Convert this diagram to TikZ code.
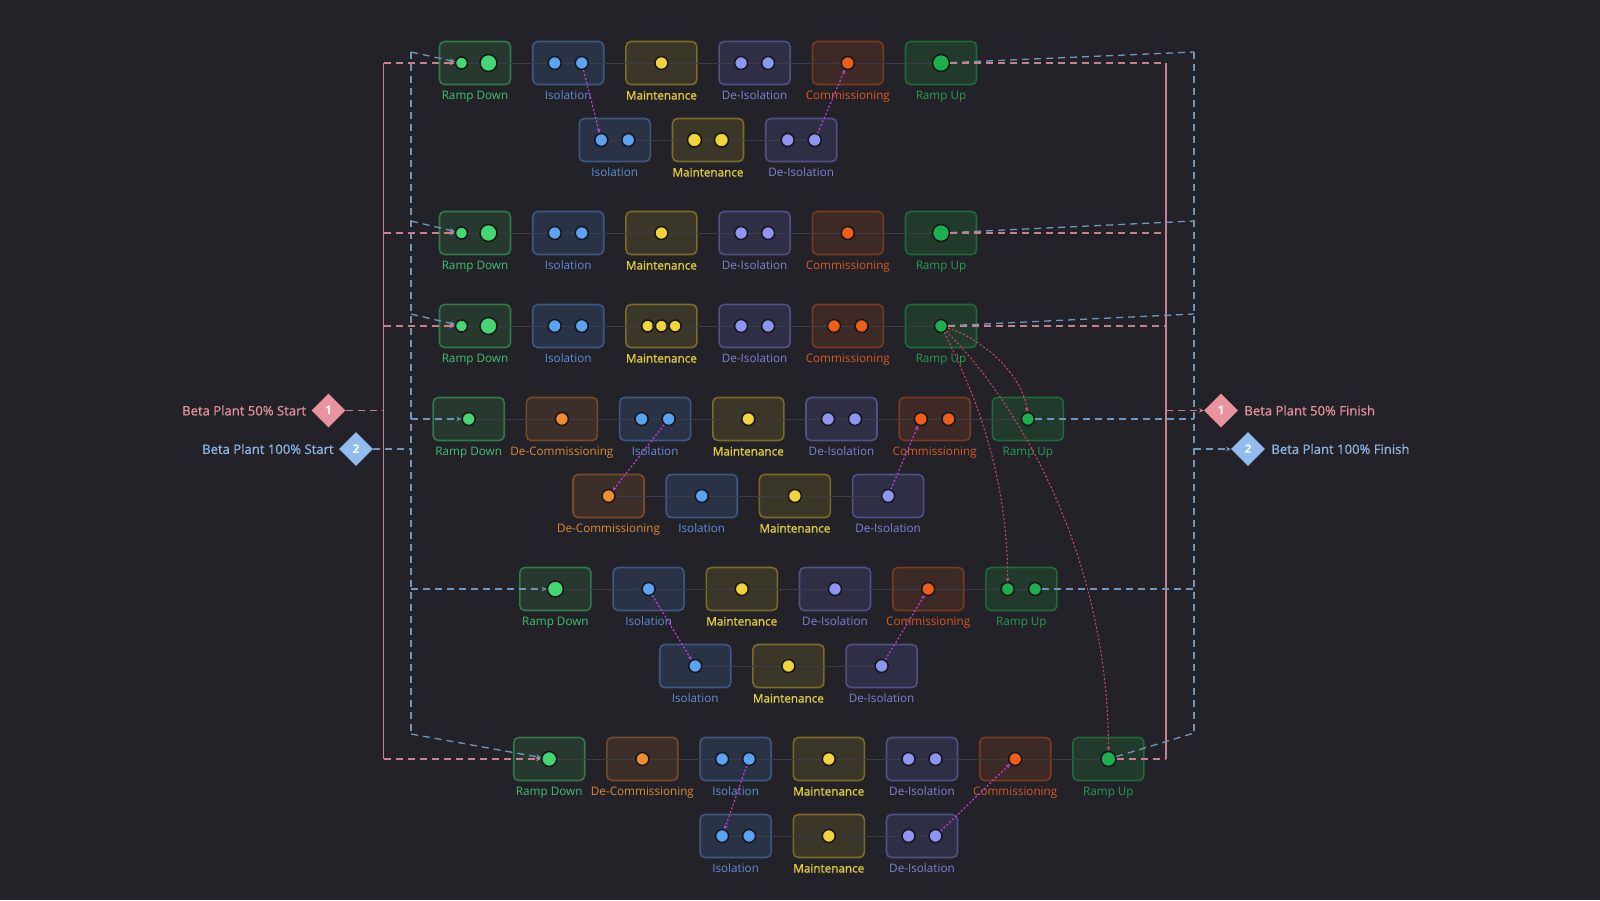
\documentclass[tikz,border=0pt]{standalone}
\usepackage{fontspec}
\setmainfont{Open Sans}
\newfontfamily\heavy[FakeBold=1.2]{Open Sans}
\newfontfamily\semi[FakeBold=0.7]{Open Sans}
\usetikzlibrary{positioning,shapes.geometric,arrows.meta}

\definecolor{bg}{HTML}{232229}
\definecolor{faint}{HTML}{3C3B48}
\definecolor{dotline}{HTML}{15151A}
\definecolor{edgerd}{HTML}{2E7A48}
\definecolor{fillrd}{HTML}{27392F}
\definecolor{dotrd}{HTML}{44D672}
\definecolor{textrd}{HTML}{3DC46B}
\definecolor{edgeiso}{HTML}{3C5884}
\definecolor{filliso}{HTML}{2A3346}
\definecolor{dotiso}{HTML}{5AA2F2}
\definecolor{textiso}{HTML}{5B8FD8}
\definecolor{edgemaint}{HTML}{7C6B27}
\definecolor{fillmaint}{HTML}{3A3628}
\definecolor{dotmaint}{HTML}{F2D33A}
\definecolor{textmaint}{HTML}{E2CB3C}
\definecolor{edgedeiso}{HTML}{50508A}
\definecolor{filldeiso}{HTML}{2E2E45}
\definecolor{dotdeiso}{HTML}{8C95F2}
\definecolor{textdeiso}{HTML}{7D82D6}
\definecolor{edgecomm}{HTML}{7C391D}
\definecolor{fillcomm}{HTML}{3D2A27}
\definecolor{dotcomm}{HTML}{EE5E19}
\definecolor{textcomm}{HTML}{DA5A1E}
\definecolor{edgedecomm}{HTML}{7A4A24}
\definecolor{filldecomm}{HTML}{3C2E29}
\definecolor{dotdecomm}{HTML}{F08C30}
\definecolor{textdecomm}{HTML}{E08934}
\definecolor{edgeru}{HTML}{1F6A3A}
\definecolor{fillru}{HTML}{213A2C}
\definecolor{dotru}{HTML}{1DAF4D}
\definecolor{textru}{HTML}{22A050}
\definecolor{pinkline}{HTML}{C8808C}
\definecolor{pinkfill}{HTML}{E8939E}
\definecolor{pinktext}{HTML}{E4939C}
\definecolor{blueline}{HTML}{7096BC}
\definecolor{bluefill}{HTML}{90BCEE}
\definecolor{bluetext}{HTML}{8DB6E4}
\definecolor{magdep}{HTML}{C23FD8}
\definecolor{reddep}{HTML}{C9485A}

\begin{document}
\begin{tikzpicture}[x=1pt,y=-1pt,
        box/.style={draw=edge#1,fill=fill#1,line width=1.6pt,rounded corners=5pt,minimum width=71pt,minimum height=43pt,inner sep=0pt},
        dot/.style={circle,draw=dotline,line width=1.5pt,inner sep=0pt},
        lbl/.style={inner sep=0pt,anchor=base,font=\fontsize{11.7}{14}\selectfont},
        rowline/.style={faint,line width=0.8pt,-{Stealth[length=3pt,width=3pt]}},
        pinkdash/.style={pinkline,line width=1.3pt,dash pattern=on 7pt off 5pt},
        bluedash/.style={blueline,line width=1.3pt,dash pattern=on 7pt off 5pt},
        tip/.style={-{Stealth[length=5pt,width=4.5pt]}},
        magarrow/.style={magdep,line width=1.2pt,dash pattern=on 2pt off 2pt,-{Stealth[length=4pt,width=4pt]}},
        redarrow/.style={reddep,line width=1.1pt,dash pattern=on 2pt off 2pt,-{Stealth[length=4pt,width=4pt]}},
        milestone/.style={diamond,minimum size=34pt,inner sep=0pt,text=white,font=\bfseries\fontsize{12}{12}\selectfont},
        sidelbl/.style={inner sep=0pt,font=\semi\fontsize{13.1}{15}\selectfont}]
    \fill[bg] (0,0) rectangle (1600,900);
    \foreach \row/\xs/\y/\items in {
        a1/475/63/{rd/Ramp Down/{-13.5/6,13.5/8.5},iso/Isolation/{-13.5/6.5,13.5/6.5},maint/{\heavy Maintenance}/{0/6.5},
            deiso/De-Isolation/{-13.5/6.5,13.5/6.5},comm/Commissioning/{0/6.5},ru/Ramp Up/{0/8.5}},
        a2/614.8/140/{iso/Isolation/{-13.5/6.5,13.5/6.5},maint/{\heavy Maintenance}/{-13.5/7,13.5/7},deiso/De-Isolation/{-13.5/6.5,13.5/6.5}},
        b/475/233/{rd/Ramp Down/{-13.5/6,13.5/8.5},iso/Isolation/{-13.5/6.5,13.5/6.5},maint/{\heavy Maintenance}/{0/6.5},
            deiso/De-Isolation/{-13.5/6.5,13.5/6.5},comm/Commissioning/{0/6.5},ru/Ramp Up/{0/8.5}},
        c/475/326/{rd/Ramp Down/{-13.5/6,13.5/8.5},iso/Isolation/{-13.5/6.5,13.5/6.5},maint/{\heavy Maintenance}/{-13.7/6,0/6,13.7/6},
            deiso/De-Isolation/{-13.5/6.5,13.5/6.5},comm/Commissioning/{-13.8/6.5,13.8/6.5},ru/Ramp Up/{0/6.5}},
        d1/468.7/419/{rd/Ramp Down/{0/6.5},decomm/De-Commissioning/{0/6.5},iso/Isolation/{-13.5/6.5,13.5/6.5},maint/{\heavy Maintenance}/{0/6.5},
            deiso/De-Isolation/{-13.5/6.5,13.5/6.5},comm/Commissioning/{-13.8/6.5,13.8/6.5},ru/Ramp Up/{0/6.5}},
        d2/608.5/496/{decomm/De-Commissioning/{0/6.5},iso/Isolation/{0/6.5},maint/{\heavy Maintenance}/{0/6.5},deiso/De-Isolation/{0/6.5}},
        e1/555.4/589/{rd/Ramp Down/{0/8},iso/Isolation/{0/6.5},maint/{\heavy Maintenance}/{0/6.5},
            deiso/De-Isolation/{0/6.5},comm/Commissioning/{0/6.5},ru/Ramp Up/{-13.7/6.5,13.7/6.5}},
        e2/695.2/666/{iso/Isolation/{0/6.5},maint/{\heavy Maintenance}/{0/6.5},deiso/De-Isolation/{0/6.5}},
        f1/549.2/759/{rd/Ramp Down/{0/7.5},decomm/De-Commissioning/{0/6.5},iso/Isolation/{-13.5/6.5,13.5/6.5},maint/{\heavy Maintenance}/{0/6.5},
            deiso/De-Isolation/{-13.5/6.5,13.5/6.5},comm/Commissioning/{0/6.5},ru/Ramp Up/{0/7.5}},
        f2/735.6/836/{iso/Isolation/{-13.5/6.5,13.5/6.5},maint/{\heavy Maintenance}/{0/6.5},deiso/De-Isolation/{-13.5/6.5,13.5/6.5}}}{
        \gdef\prevdot{}
        \foreach \k/\lab/\ds [count=\i] in \items {
            \pgfmathsetmacro\bx{\xs+93.2*(\i-1)}
            \node[box=\k] (\row-\k) at (\bx,\y) {};
            \node[lbl,text=text\k] (\row-\k-lbl) at (\bx,\y+36.5) {\lab};
            \foreach \dx/\rr [count=\j] in \ds {
                \pgfmathsetmacro\dotx{\bx+\dx}
                \node[dot,fill=dot\k,minimum size=2*\rr] (\row-\k-\j) at (\dotx,\y) {};
                \ifx\prevdot\empty\else
                    \draw[rowline] (\prevdot) -- (\row-\k-\j);
                \fi
                \xdef\prevdot{\row-\k-\j}
            }
        }
    }

    \node[milestone,fill=pinkfill] (start50) at (328.5,410.5) {1};
    \node[milestone,fill=bluefill] (start100) at (356,449) {2};
    \node[milestone,fill=pinkfill] (fin50) at (1221,410.5) {1};
    \node[milestone,fill=bluefill] (fin100) at (1248,449) {2};
    \node[sidelbl,text=pinktext,left=5pt of start50] (start50-lbl) {Beta Plant 50\% Start};
    \node[sidelbl,text=bluetext,left=5pt of start100] (start100-lbl) {Beta Plant 100\% Start};
    \node[sidelbl,text=pinktext,right=6pt of fin50] (fin50-lbl) {Beta Plant 50\% Finish};
    \node[sidelbl,text=bluetext,right=6pt of fin100] (fin100-lbl) {Beta Plant 100\% Finish};

    \coordinate (lp-top) at (383.5,63);
    \coordinate (lp-bot) at (383.5,759);
    \coordinate (lb-a) at (411,52);
    \coordinate (lb-b) at (411,221);
    \coordinate (lb-c) at (411,314);
    \coordinate (lb-f) at (411,734);
    \coordinate (rp-top) at (1166,63);
    \coordinate (rp-bot) at (1166,759);
    \coordinate (rb-a) at (1194,52);
    \coordinate (rb-b) at (1194,221);
    \coordinate (rb-c) at (1194,314);
    \coordinate (rb-f) at (1194,733);

    \draw[bluedash] (lb-a) -- (lb-f);
    \draw[pinkline,line width=1.3pt] (lp-top) -- (lp-bot);
    \draw[pinkdash] (start50) -- (start50 -| lp-top);
    \draw[bluedash] (start100) -- (start100 -| lb-a);
    \foreach \row/\c in {a1/lb-a,b/lb-b,c/lb-c,f1/lb-f}{
        \draw[bluedash,tip] (\c) -- (\row-rd-1);
    }
    \foreach \row in {d1,e1}{
        \draw[bluedash,tip] (\row-rd-1 -| lb-a) -- (\row-rd-1);
    }
    \foreach \row in {a1,b,c,f1}{
        \draw[pinkdash,tip] (\row-rd-1 -| lp-top) -- (\row-rd-1);
    }

    \draw[bluedash] (rb-a) -- (rb-f);
    \draw[pinkline,line width=1.3pt] (rp-top) -- (rp-bot);
    \foreach \row/\c in {a1/rb-a,b/rb-b,c/rb-c,f1/rb-f}{
        \draw[bluedash] (\row-ru-1) -- (\c);
        \draw[pinkdash] (\row-ru-1) -- (\row-ru-1 -| rp-top);
    }
    \draw[bluedash] (d1-ru-1) -- (d1-ru-1 -| rb-a);
    \draw[bluedash] (e1-ru-2) -- (e1-ru-2 -| rb-a);
    \draw[pinkdash,tip] (fin50 -| rp-top) -- (fin50);
    \draw[bluedash,tip] (fin100 -| rb-a) -- (fin100);

    \draw[magarrow] (a1-iso-2) -- (a2-iso-1);
    \draw[magarrow] (a2-deiso-2) -- (a1-comm-1);
    \draw[magarrow] (d1-iso-2) -- (d2-decomm-1);
    \draw[magarrow] (d2-deiso-1) -- (d1-comm-1);
    \draw[magarrow] (e1-iso-1) -- (e2-iso-1);
    \draw[magarrow] (e2-deiso-1) -- (e1-comm-1);
    \draw[magarrow] (f1-iso-2) -- (f2-iso-1);
    \draw[magarrow] (f2-deiso-2) -- (f1-comm-1);

    \draw[redarrow] (c-ru-1) .. controls +(40,12) and +(-5,-45) .. (d1-ru-1);
    \draw[redarrow] (c-ru-1) .. controls +(30,60) and +(0,-120) .. (e1-ru-1);
    \draw[redarrow] (c-ru-1) .. controls +(80,80) and +(0,-200) .. (f1-ru-1);
\end{tikzpicture}
\end{document}
